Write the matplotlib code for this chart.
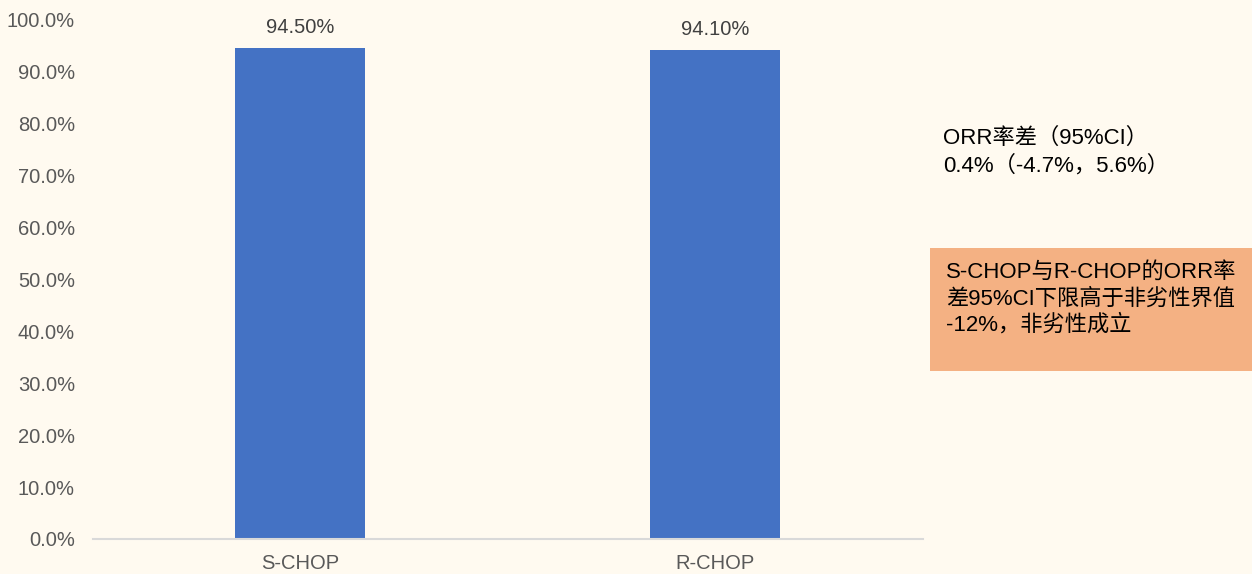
import matplotlib.pyplot as plt
from matplotlib.patches import Rectangle
from matplotlib.ticker import FuncFormatter

groups = ['S-CHOP', 'R-CHOP']
orr = [94.5, 94.1]
yticks = [0, 10, 20, 30, 40, 50, 60, 70, 80, 90, 100]
diff_text = 'ORR率差（95%CI）\n0.4%（-4.7%，5.6%）'
note_text = 'S-CHOP与R-CHOP的ORR率\n差95%CI下限高于非劣性界值\n-12%，非劣性成立'

plt.rcParams['font.family'] = ['Liberation Sans', 'Noto Sans CJK SC', 'DejaVu Sans']

bg = '#FFFAF0'
fig = plt.figure(figsize=(12.52, 5.74), dpi=100, facecolor=bg)
W, H = 1252, 574
ax = fig.add_axes([93 / W, 35 / H, (923 - 93) / W, (539 - 19.4) / H])
ax.set_facecolor(bg)

x = list(range(len(groups)))
bars = ax.bar(x, orr, width=0.313, color='#4472C4', zorder=2)
for xi, v in zip(x, orr):
    ax.annotate('%.2f%%' % v, (xi, v), xytext=(0, 8), textcoords='offset points',
                ha='center', va='bottom', fontsize=14.5, color='#404040')

ax.set_xlim(-0.499, 1.501)
ax.set_ylim(0, 100)
ax.set_yticks(yticks)
ax.yaxis.set_major_formatter(FuncFormatter(lambda v, p: '%.1f%%' % v))
ax.set_xticks(x)
ax.set_xticklabels(groups)
ax.tick_params(axis='y', length=0, pad=13, labelsize=14.5, labelcolor='#595959')
ax.tick_params(axis='x', length=0, pad=11, labelsize=14.5, labelcolor='#595959')
for s in ['top', 'right', 'left']:
    ax.spines[s].set_visible(False)
ax.spines['bottom'].set_color('#D9D9D9')
ax.spines['bottom'].set_linewidth(1.5)

# result summary on the right
fig.text(943 / W, 1 - 152 / H, diff_text, fontsize=16, color='black',
         ha='left', va='center', linespacing=1.35)

fig.patches.append(Rectangle((930 / W, (H - 371) / H), (W - 930) / W, 123 / H,
                             transform=fig.transFigure, facecolor='#F4B183',
                             edgecolor='none', zorder=0))
fig.text(946 / W, 1 - 299 / H, note_text, fontsize=16, color='black',
         ha='left', va='center', linespacing=1.3)

fig.savefig('out.png', dpi=100, facecolor=bg)
